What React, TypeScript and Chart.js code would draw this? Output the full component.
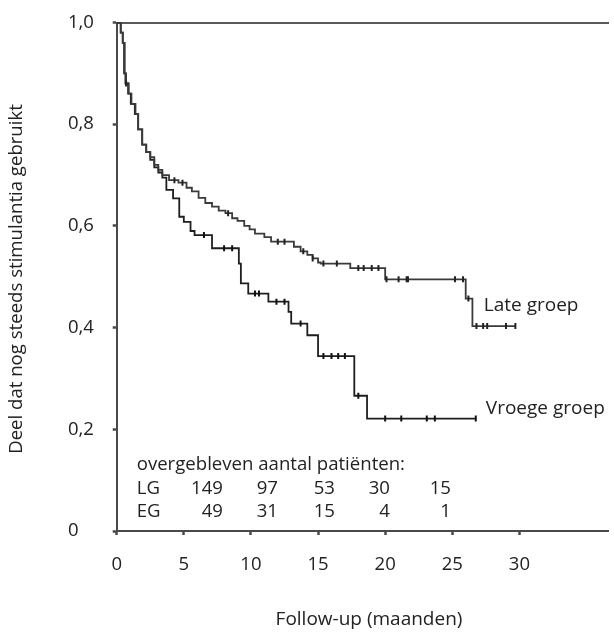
import React, { useEffect, useRef } from 'react';
import { Chart, registerables } from 'chart.js';

Chart.register(...registerables);

// ---- data ----
const xTickValues = [0, 5, 10, 15, 20, 25, 30];
const yTickValues = [0, 0.2, 0.4, 0.6, 0.8, 1.0];

// Late groep (upper curve): time (months), survival, censored flag
const lateTimes = [0, 0.3, 0.45, 0.6, 0.7, 0.9, 1.1, 1.4, 1.6, 1.9, 2.2, 2.5, 2.8, 3.1, 3.4, 3.9, 4.3, 4.6, 4.9, 5.2, 5.6, 6.1, 6.6, 7.1, 7.6, 8.1, 8.3, 8.6, 9.0, 9.5, 9.9, 10.3, 11.0, 11.5, 12.0, 12.5, 13.2, 13.7, 13.9, 14.2, 14.6, 15.0, 15.2, 15.4, 16.4, 17.4, 18.0, 18.4, 19.0, 19.5, 20.0, 20.1, 21.0, 21.6, 21.7, 25.2, 25.8, 26.0, 26.2, 26.5, 26.8, 27.3, 27.6, 29.0, 29.7];
const lateSurv = [1.0, 0.98, 0.96, 0.9, 0.88, 0.86, 0.84, 0.82, 0.79, 0.76, 0.745, 0.735, 0.72, 0.71, 0.7, 0.69, 0.69, 0.685, 0.685, 0.675, 0.668, 0.655, 0.645, 0.638, 0.63, 0.625, 0.625, 0.615, 0.61, 0.6, 0.593, 0.585, 0.578, 0.569, 0.569, 0.569, 0.559, 0.55, 0.55, 0.543, 0.536, 0.528, 0.526, 0.526, 0.526, 0.517, 0.517, 0.517, 0.517, 0.517, 0.495, 0.495, 0.495, 0.495, 0.495, 0.495, 0.495, 0.457, 0.457, 0.403, 0.403, 0.403, 0.403, 0.403, 0.403];
const lateCensored = [0, 0, 0, 0, 1, 0, 0, 0, 0, 0, 0, 0, 0, 0, 0, 0, 1, 0, 1, 0, 0, 0, 0, 0, 0, 0, 1, 0, 0, 0, 0, 0, 0, 0, 1, 1, 0, 0, 1, 0, 1, 0, 0, 1, 1, 0, 1, 1, 1, 1, 0, 1, 1, 1, 1, 1, 1, 0, 1, 0, 1, 1, 1, 1, 1];

// Vroege groep (lower curve)
const earlyTimes = [0, 0.3, 0.45, 0.55, 0.65, 0.85, 1.05, 1.35, 1.6, 1.9, 2.2, 2.5, 2.8, 3.1, 3.4, 3.7, 4.2, 4.66, 5.0, 5.5, 5.8, 6.5, 7.1, 8.0, 8.6, 9.1, 9.25, 9.8, 10.3, 10.6, 11.3, 11.9, 12.5, 12.8, 13.0, 13.7, 14.2, 15.0, 15.4, 16.0, 16.5, 17.0, 17.7, 18.0, 18.65, 20.0, 21.2, 23.1, 23.7, 26.75];
const earlySurv = [1.0, 0.98, 0.96, 0.9, 0.88, 0.86, 0.84, 0.82, 0.79, 0.76, 0.745, 0.73, 0.715, 0.705, 0.695, 0.671, 0.654, 0.618, 0.608, 0.59, 0.582, 0.582, 0.556, 0.556, 0.556, 0.526, 0.487, 0.467, 0.467, 0.467, 0.451, 0.451, 0.451, 0.431, 0.408, 0.408, 0.385, 0.344, 0.344, 0.344, 0.344, 0.344, 0.266, 0.266, 0.221, 0.221, 0.221, 0.221, 0.221, 0.221];
const earlyCensored = [0, 0, 0, 0, 0, 0, 0, 0, 0, 0, 0, 0, 0, 0, 0, 0, 0, 0, 0, 0, 0, 1, 0, 1, 1, 0, 0, 0, 1, 1, 0, 1, 1, 0, 0, 1, 0, 0, 1, 1, 1, 1, 0, 1, 0, 1, 1, 1, 1, 1];

const seriesLabels = ['Late groep', 'Vroege groep'];
const riskHeader = 'overgebleven aantal patiënten:';
const riskGroups = ['LG', 'EG'];
const riskLate = [149, 97, 53, 30, 15];
const riskEarly = [49, 31, 15, 4, 1];
const xTitle = 'Follow-up (maanden)';
const yTitle = 'Deel dat nog steeds stimulantia gebruikt';

// ---- styles ----
const FONT = '"Open Sans", sans-serif';
const TEXT = '#222';
const AXIS = '#4a4a4a';

const W = 614;
const H = 632;

const fmtY = (v: number) => (v === 0 ? '0' : v.toFixed(1).replace('.', ','));

const textPlugin = {
  id: 'extraTexts',
  afterDraw(chart: any) {
    const ctx = chart.ctx as CanvasRenderingContext2D;
    const xs = chart.scales.x;
    const ys = chart.scales.y;
    ctx.save();
    ctx.fillStyle = TEXT;
    ctx.textBaseline = 'middle';

    // curve labels
    ctx.font = `19px ${FONT}`;
    ctx.textAlign = 'left';
    ctx.fillText(seriesLabels[0], xs.getPixelForValue(27.35), ys.getPixelForValue(0.444));
    ctx.fillText(seriesLabels[1], xs.getPixelForValue(27.5), ys.getPixelForValue(0.241));

    // numbers at risk
    const left = chart.chartArea.left + 20;
    const rowY = [465, 488.5, 511.5];
    const colRight = [223, 278, 335, 390, 451];
    ctx.font = `18.6px ${FONT}`;
    ctx.textAlign = 'left';
    ctx.fillText(riskHeader, left, rowY[0]);
    ctx.fillText(riskGroups[0], left, rowY[1]);
    ctx.fillText(riskGroups[1], left, rowY[2]);
    ctx.textAlign = 'right';
    riskLate.forEach((n, i) => ctx.fillText(String(n), colRight[i], rowY[1]));
    riskEarly.forEach((n, i) => ctx.fillText(String(n), colRight[i], rowY[2]));

    // axis titles
    ctx.font = `19px ${FONT}`;
    ctx.textAlign = 'center';
    ctx.fillText(xTitle, 369, 620);
    ctx.font = `18.6px ${FONT}`;
    ctx.translate(17, 279);
    ctx.rotate(-Math.PI / 2);
    ctx.fillText(yTitle, 0, 0);
    ctx.restore();
  },
};

function buildSeries(times: number[], surv: number[]) {
  return times.map((t, i) => ({ x: t, y: surv[i] }));
}

export default function App() {
  const ref = useRef<HTMLCanvasElement | null>(null);

  useEffect(() => {
    if (!ref.current) return;
    const chart = new Chart(ref.current, {
      type: 'line',
      data: {
        datasets: [
          {
            label: seriesLabels[0],
            data: buildSeries(lateTimes, lateSurv),
            stepped: 'before',
            borderColor: '#3a3a3a',
            borderWidth: 1.8,
            fill: false,
            pointStyle: 'line',
            pointRotation: 90,
            pointRadius: lateCensored.map((c) => (c ? 3 : 0)),
            pointBorderWidth: 2,
            pointBorderColor: '#222',
            pointBackgroundColor: '#222',
          },
          {
            label: seriesLabels[1],
            data: buildSeries(earlyTimes, earlySurv),
            stepped: 'before',
            borderColor: '#1e1e1e',
            borderWidth: 1.8,
            fill: false,
            pointStyle: 'line',
            pointRotation: 90,
            pointRadius: earlyCensored.map((c) => (c ? 3 : 0)),
            pointBorderWidth: 2,
            pointBorderColor: '#111',
            pointBackgroundColor: '#111',
          },
        ],
      },
      options: {
        responsive: false,
        animation: false,
        devicePixelRatio: 1,
        layout: { padding: { top: 22.5, left: 68, right: 0, bottom: 0 } },
        plugins: {
          legend: { display: false },
          tooltip: { enabled: false },
        },
        elements: { line: { tension: 0 } },
        scales: {
          x: {
            type: 'linear',
            position: 'bottom',
            min: 0,
            max: 36.6,
            afterBuildTicks: (scale: any) => {
              scale.ticks = xTickValues.map((v) => ({ value: v }));
            },
            afterFit: (scale: any) => {
              scale.height = H - 531;
            },
            ticks: {
              color: TEXT,
              font: { family: FONT, size: 18.5 },
              padding: 19,
              maxRotation: 0,
              autoSkip: false,
              callback: (v: any) => String(v),
            },
            grid: {
              display: true,
              drawOnChartArea: false,
              drawTicks: true,
              tickLength: 4,
              tickWidth: 2.5,
              tickColor: AXIS,
            },
            border: { display: true, color: AXIS, width: 2 },
            title: { display: false },
          },
          x2: {
            type: 'linear',
            position: 'top',
            display: true,
            min: 0,
            max: 36.6,
            afterFit: (scale: any) => {
              scale.height = 0;
            },
            ticks: { display: false },
            grid: { display: false, drawTicks: false },
            border: { display: true, color: '#5a5a5a', width: 2 },
          },
          y: {
            type: 'linear',
            position: 'left',
            min: 0,
            max: 1,
            afterBuildTicks: (scale: any) => {
              scale.ticks = yTickValues.map((v) => ({ value: v }));
            },
            afterFit: (scale: any) => {
              scale.width = 116.7 - 68;
            },
            ticks: {
              color: TEXT,
              font: { family: FONT, size: 18.5 },
              crossAlign: 'far',
              autoSkip: false,
              callback: (v: any) => fmtY(Number(v)),
            },
            grid: {
              display: true,
              drawOnChartArea: false,
              drawTicks: true,
              tickLength: 4,
              tickWidth: 2.5,
              tickColor: AXIS,
            },
            border: { display: true, color: AXIS, width: 2 },
            title: { display: false },
          },
        },
      },
      plugins: [textPlugin],
    } as any);
    return () => chart.destroy();
  }, []);

  return (
    <div style={{ position: 'absolute', left: 0, top: 0, width: W, height: H, background: '#fff' }}>
      <canvas ref={ref} width={W} height={H} style={{ width: W, height: H, display: 'block' }} />
    </div>
  );
}
